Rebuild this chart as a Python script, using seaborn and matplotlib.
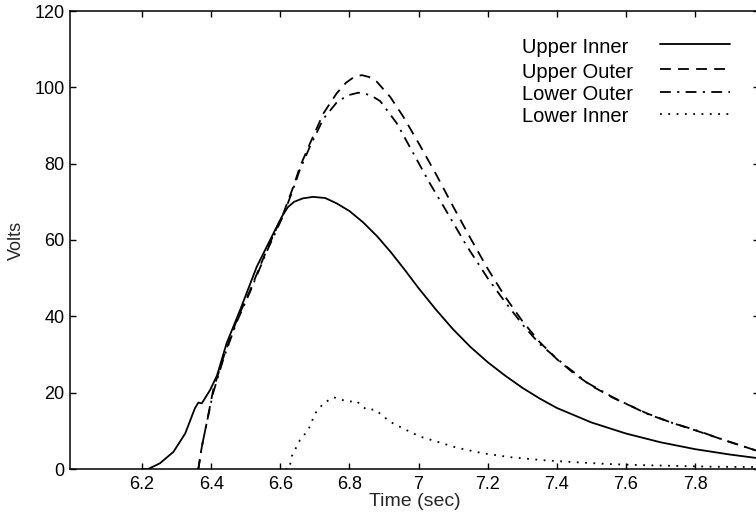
import matplotlib
matplotlib.use("Agg")
import matplotlib.pyplot as plt
import seaborn as sns

# ---- data ----
ui_x = [6.20, 6.218, 6.252, 6.291, 6.325, 6.353, 6.363, 6.373, 6.397, 6.417, 6.445, 6.484,
        6.532, 6.58, 6.605, 6.622, 6.64, 6.665, 6.695, 6.73, 6.763, 6.80, 6.84, 6.88,
        6.92, 6.96, 7.0, 7.05, 7.10, 7.15, 7.20, 7.25, 7.30, 7.35, 7.40, 7.50,
        7.60, 7.70, 7.80, 7.90, 7.985]
ui_y = [0, 0, 1.5, 4.5, 9.3, 15.9, 17.4, 17.2, 20.7, 24.5, 33.0, 41.7,
        53.0, 61.7, 66.2, 68.6, 70.0, 70.9, 71.3, 71.0, 69.6, 67.6, 64.6, 61.0,
        56.8, 52.2, 47.4, 41.8, 36.6, 32.0, 28.0, 24.5, 21.3, 18.5, 16.0, 12.2,
        9.3, 7.0, 5.2, 3.8, 2.8]

uo_x = [6.36, 6.363, 6.373, 6.387, 6.406, 6.436, 6.474, 6.513, 6.561, 6.609, 6.638, 6.657,
        6.686, 6.725, 6.763, 6.79, 6.815, 6.836, 6.857, 6.879, 6.918, 6.956, 7.004, 7.052,
        7.10, 7.15, 7.20, 7.25, 7.30, 7.35, 7.40, 7.45, 7.50, 7.564, 7.66, 7.73,
        7.805, 7.89, 7.985]
uo_y = [0, 0, 5.8, 12.0, 20.7, 29.4, 39.0, 46.9, 57.4, 67.0, 74.0, 79.2,
        85.3, 93.2, 98.4, 101.2, 102.8, 103.2, 102.7, 101.5, 97.5, 92.3, 84.8, 77.0,
        68.8, 60.5, 52.5, 45.2, 38.8, 33.3, 28.8, 25.0, 21.8, 18.6, 14.6, 12.2,
        10.0, 7.4, 4.6]

lo_x = [6.36, 6.363, 6.373, 6.387, 6.406, 6.436, 6.474, 6.513, 6.561, 6.609, 6.638, 6.657,
        6.686, 6.725, 6.763, 6.795, 6.826, 6.86, 6.889, 6.937, 6.985, 7.033, 7.081, 7.139,
        7.20, 7.25, 7.304, 7.35, 7.419, 7.49, 7.564, 7.66, 7.73, 7.805, 7.89, 7.985]
lo_y = [0, 0, 5.8, 12.0, 20.0, 29.0, 38.5, 46.5, 57.0, 66.5, 73.5, 78.5,
        84.5, 91.8, 96.0, 97.9, 98.6, 98.0, 96.4, 90.6, 82.7, 74.8, 67.5, 58.5,
        50.0, 43.8, 37.5, 32.8, 27.5, 22.5, 18.7, 14.5, 12.2, 10.1, 7.4, 4.6]

li_x = [6.615, 6.626, 6.633, 6.657, 6.681, 6.701, 6.725, 6.754, 6.797, 6.819, 6.85, 6.874,
        6.917, 6.965, 7.004, 7.052, 7.11, 7.187, 7.265, 7.361, 7.45, 7.55, 7.65, 7.75,
        7.85, 7.985]
li_y = [0, 0, 3.3, 7.6, 10.2, 14.6, 17.2, 18.8, 17.6, 17.9, 15.5, 15.6,
        12.4, 10.2, 8.5, 7.2, 5.6, 4.1, 3.1, 2.3, 1.8, 1.3, 1.0, 0.8,
        0.6, 0.5]

labels = ["Upper Inner", "Upper Outer", "Lower Outer", "Lower Inner"]
x_ticks = [6.2, 6.4, 6.6, 6.8, 7.0, 7.2, 7.4, 7.6, 7.8]
x_tick_labels = ["6.2", "6.4", "6.6", "6.8", "7", "7.2", "7.4", "7.6", "7.8"]
y_ticks = [0, 20, 40, 60, 80, 100, 120]

# ---- style ----
sns.set_theme(style="ticks")
plt.rcParams["font.family"] = ["Liberation Sans", "DejaVu Sans"]

styles = ["-", (0, (6, 4)), (0, (6, 3.5, 1.2, 3.5)), (0, (1, 3.6))]
series = [(ui_x, ui_y), (uo_x, uo_y), (lo_x, lo_y), (li_x, li_y)]

fig = plt.figure(figsize=(7.56, 5.14), dpi=100)
fig.patch.set_facecolor("white")
ax = fig.add_axes([70 / 756, 45 / 514, 689 / 756, 458 / 514])
ax.set_facecolor("white")

for (xs, ys), ls in zip(series, styles):
    sns.lineplot(x=xs, y=ys, ax=ax, color="black", linewidth=1.3,
                 linestyle=ls, estimator=None, sort=False, legend=False)

ax.set_xlim(5.9917, 7.985)
ax.set_ylim(0, 120)
ax.set_xticks(x_ticks)
ax.set_xticklabels(x_tick_labels)
ax.set_yticks(y_ticks)
ax.tick_params(direction="in", length=4, width=1.0, top=True, right=True,
               labelsize=13, colors="black")
ax.tick_params(axis="x", pad=5)
ax.tick_params(axis="y", pad=4)
for s in ax.spines.values():
    s.set_visible(True)
    s.set_linewidth(1.1)
    s.set_color("black")

ax.set_xlabel("Time (sec)", fontsize=14, labelpad=0)
ax.set_ylabel("Volts", fontsize=13, labelpad=7)
ax.grid(False)

# ---- legend (text left, sample line right) ----
text_x = 0.656
line_x = [0.8563, 0.9579]
line_ys = [0.9273, 0.8727, 0.8238, 0.7751]
for lab, ls, ly in zip(labels, styles, line_ys):
    ax.text(text_x, ly - 0.006, lab, transform=ax.transAxes, fontsize=14.5,
            va="center", ha="left", color="black")
    ax.plot(line_x, [ly, ly], transform=ax.transAxes, color="black",
            linewidth=1.3, linestyle=ls, clip_on=False)

fig.savefig("out.png", dpi=100, facecolor="white")
